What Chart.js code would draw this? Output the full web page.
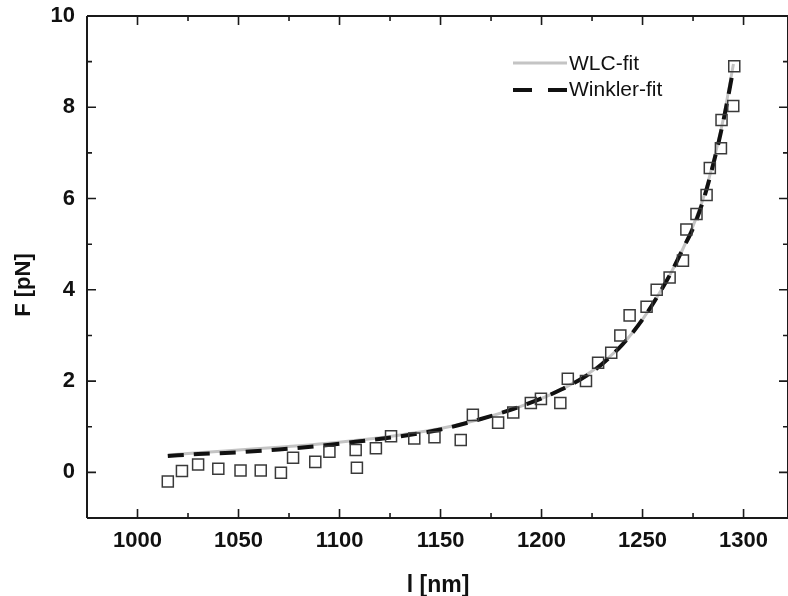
<!DOCTYPE html>
<html>
<head>
<meta charset="utf-8">
<script src="https://cdn.jsdelivr.net/npm/chart.js@4.4.0/dist/chart.umd.min.js"></script>
<style>
  html, body { margin: 0; padding: 0; background: #fff; }
</style>
</head>
<body>
<canvas id="chart" width="788" height="596"></canvas>
<script>
// measured points
var lengthNm = [1015, 1022, 1030, 1040, 1051, 1061, 1071, 1077, 1088, 1095, 1108, 1108.6, 1118, 1125.5,
  1137, 1147, 1160, 1166, 1178.5, 1186, 1194.7, 1199.7, 1209.3, 1213, 1222, 1228, 1234.5, 1239, 1243.6,
  1252, 1257, 1263.4, 1270, 1271.7, 1276.7, 1281.7, 1283.3, 1288.8, 1289.1, 1294.9, 1295.4];
var forcePn = [-0.2, 0.03, 0.17, 0.08, 0.04, 0.04, -0.01, 0.32, 0.23, 0.45, 0.49, 0.1, 0.53, 0.79,
  0.74, 0.77, 0.71, 1.26, 1.09, 1.31, 1.52, 1.61, 1.52, 2.05, 2.0, 2.4, 2.62, 3.0, 3.44,
  3.63, 4.0, 4.27, 4.64, 5.32, 5.66, 6.08, 6.67, 7.1, 7.72, 8.03, 8.9];

// fit curves
var fitNm = [1015, 1030, 1050, 1070, 1090, 1110, 1130, 1150, 1170, 1190, 1210, 1225, 1240, 1250,
  1260, 1265, 1270, 1275, 1280, 1285, 1290, 1295];
var wlcFit = [0.38, 0.43, 0.49, 0.55, 0.62, 0.71, 0.82, 0.96, 1.17, 1.45, 1.82, 2.22, 2.8, 3.35,
  4.05, 4.45, 4.9, 5.4, 6.0, 6.8, 7.75, 8.95];
var winklerFit = [0.36, 0.4, 0.44, 0.5, 0.58, 0.68, 0.79, 0.94, 1.17, 1.45, 1.82, 2.2, 2.8, 3.35,
  4.05, 4.45, 4.9, 5.35, 5.95, 6.75, 7.7, 8.85];

var xTicks = [1000, 1050, 1100, 1150, 1200, 1250, 1300];
var yTicks = [0, 2, 4, 6, 8, 10];

var fontFam = "'Liberation Sans', Arial, sans-serif";
var ink = "#1a1a1a";

function pairs(xs, ys) {
  return xs.map(function (x, i) { return { x: x, y: ys[i] }; });
}

// frame, inward ticks, axis titles and legend
var framePlugin = {
  id: "frame",
  afterDraw: function (chart) {
    var ctx = chart.ctx;
    var a = chart.chartArea;
    var sx = chart.scales.x, sy = chart.scales.y;
    ctx.save();
    ctx.strokeStyle = ink;
    ctx.lineWidth = 2;
    ctx.beginPath();
    ctx.moveTo(a.left, a.top); ctx.lineTo(a.right, a.top);
    ctx.moveTo(a.left, a.top); ctx.lineTo(a.left, a.bottom);
    ctx.moveTo(a.left, a.bottom); ctx.lineTo(a.right, a.bottom);
    ctx.moveTo(a.right, a.top); ctx.lineTo(a.right, a.bottom);
    ctx.stroke();

    ctx.lineWidth = 1.6;
    ctx.beginPath();
    for (var v = 1000; v <= 1300; v += 25) {
      var px = sx.getPixelForValue(v);
      var len = v % 50 === 0 ? 9 : 5;
      ctx.moveTo(px, a.bottom); ctx.lineTo(px, a.bottom - len);
      ctx.moveTo(px, a.top); ctx.lineTo(px, a.top + len);
    }
    for (var w = -1; w <= 10; w++) {
      var py = sy.getPixelForValue(w);
      var l2 = w % 2 === 0 ? 9 : 5;
      ctx.moveTo(a.left, py); ctx.lineTo(a.left + l2, py);
      ctx.moveTo(a.right, py); ctx.lineTo(a.right - l2, py);
    }
    ctx.stroke();

    // axis titles
    ctx.fillStyle = "#111";
    ctx.font = "bold 23px " + fontFam;
    ctx.textAlign = "center";
    ctx.textBaseline = "alphabetic";
    ctx.fillText("l [nm]", 438, 592);
    ctx.save();
    ctx.translate(30, 285);
    ctx.rotate(-Math.PI / 2);
    ctx.font = "bold 22px " + fontFam;
    ctx.fillText("F [pN]", 0, 0);
    ctx.restore();

    // legend
    var ds = chart.data.datasets;
    ctx.lineCap = "butt";
    ctx.strokeStyle = ds[2].borderColor;
    ctx.lineWidth = ds[2].borderWidth;
    ctx.beginPath(); ctx.moveTo(513, 63); ctx.lineTo(567, 63); ctx.stroke();
    ctx.strokeStyle = ds[1].borderColor;
    ctx.lineWidth = ds[1].borderWidth;
    ctx.beginPath();
    ctx.moveTo(513, 90); ctx.lineTo(532, 90);
    ctx.moveTo(548, 90); ctx.lineTo(567, 90);
    ctx.stroke();
    ctx.font = "21px " + fontFam;
    ctx.textAlign = "left";
    ctx.textBaseline = "middle";
    ctx.fillStyle = "#111";
    ctx.fillText(ds[2].label, 569, 64);
    ctx.fillText(ds[1].label, 569, 90);
    ctx.restore();
  }
};

function noPad(s) {
  s.paddingLeft = 0; s.paddingRight = 0; s.paddingTop = 0; s.paddingBottom = 0;
}

new Chart(document.getElementById("chart"), {
  type: "scatter",
  data: {
    datasets: [
      {
        label: "data",
        data: pairs(lengthNm, forcePn),
        pointStyle: "rect",
        pointRadius: 7.8,
        pointBorderWidth: 1.5,
        pointBorderColor: "#3a3a3a",
        pointBackgroundColor: "rgba(0,0,0,0)",
        showLine: false
      },
      {
        type: "line",
        label: "Winkler-fit",
        data: pairs(fitNm, winklerFit),
        borderColor: "#111",
        borderWidth: 4,
        borderDash: [16, 10],
        pointRadius: 0,
        cubicInterpolationMode: "monotone",
        fill: false
      },
      {
        type: "line",
        label: "WLC-fit",
        data: pairs(fitNm, wlcFit),
        borderColor: "#c4c4c4",
        borderWidth: 3,
        pointRadius: 0,
        cubicInterpolationMode: "monotone",
        fill: false
      }
    ]
  },
  options: {
    responsive: false,
    animation: false,
    layout: { autoPadding: false, padding: { top: 16, left: 0, right: 0, bottom: 0 } },
    plugins: {
      legend: { display: false },
      tooltip: { enabled: false }
    },
    scales: {
      x: {
        type: "linear",
        min: 975,
        max: 1322,
        grid: { display: false, drawTicks: false },
        border: { display: false },
        ticks: {
          padding: 10,
          color: "#111",
          maxRotation: 0,
          autoSkip: false,
          font: { family: fontFam, size: 22, weight: "bold" },
          callback: function (v) { return String(v); }
        },
        afterBuildTicks: function (s) { s.ticks = xTicks.map(function (v) { return { value: v }; }); },
        afterFit: function (s) { s.height = 78; noPad(s); }
      },
      y: {
        type: "linear",
        min: -1,
        max: 10,
        grid: { display: false, drawTicks: false },
        border: { display: false },
        ticks: {
          padding: 12,
          color: "#111",
          autoSkip: false,
          font: { family: fontFam, size: 22, weight: "bold" },
          callback: function (v) { return String(v); }
        },
        afterBuildTicks: function (s) { s.ticks = yTicks.map(function (v) { return { value: v }; }); },
        afterFit: function (s) { s.width = 87; noPad(s); }
      }
    }
  },
  plugins: [framePlugin]
});
</script>
</body>
</html>
